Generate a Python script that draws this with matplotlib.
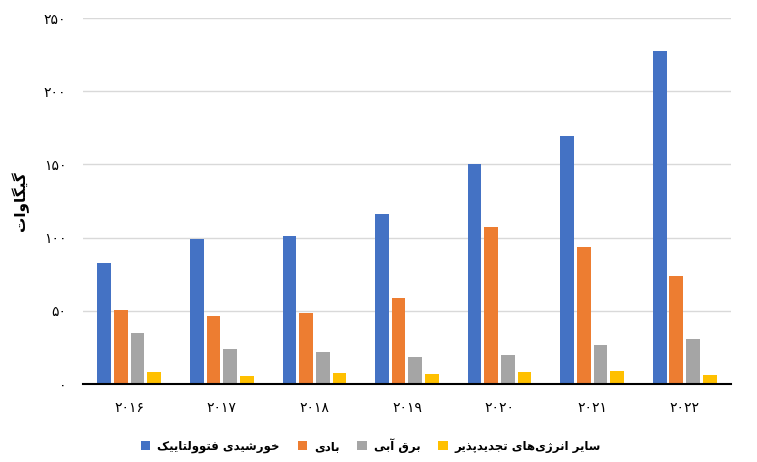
import numpy as np
import matplotlib
matplotlib.use("Agg")
import matplotlib.pyplot as plt

# ── Data ────────────────────────────────────────────────────────
years = ["۲۰۱۶", "۲۰۱۷", "۲۰۱۸", "۲۰۱۹", "۲۰۲۰", "۲۰۲۱", "۲۰۲۲"]
solar = [82.6, 99.0, 101.0, 116.1, 150.3, 169.4, 227.5]
wind = [50.5, 46.4, 48.5, 58.7, 107.2, 93.6, 73.8]
hydro = [34.8, 23.9, 21.9, 18.4, 19.8, 26.6, 30.7]
other = [8.2, 5.5, 7.5, 6.8, 8.2, 8.9, 6.1]

series_names = ["خورشیدی فتوولتاییک", "بادی", "برق آبی", "سایر انرژی‌های تجدیدپذیر"]
y_label = "گیگاوات"
y_ticks = [0, 50, 100, 150, 200, 250]
y_tick_labels = ["۰", "۵۰", "۱۰۰", "۱۵۰", "۲۰۰", "۲۵۰"]

colors = ["#4472C4", "#ED7D31", "#A5A5A5", "#FFC000"]

# ── Minimal Persian shaping (matplotlib has no bidi/shaping) ────
# forms: (isolated, final, initial, medial); 2-tuple = joins only to the right
FORMS = {
    "ا": ("\uFE8D", "\uFE8E"), "آ": ("\uFE81", "\uFE82"),
    "ب": ("\uFE8F", "\uFE90", "\uFE91", "\uFE92"),
    "ت": ("\uFE95", "\uFE96", "\uFE97", "\uFE98"),
    "ج": ("\uFE9D", "\uFE9E", "\uFE9F", "\uFEA0"),
    "خ": ("\uFEA5", "\uFEA6", "\uFEA7", "\uFEA8"),
    "د": ("\uFEA9", "\uFEAA"), "ذ": ("\uFEAB", "\uFEAC"),
    "ر": ("\uFEAD", "\uFEAE"), "ز": ("\uFEAF", "\uFEB0"),
    "س": ("\uFEB1", "\uFEB2", "\uFEB3", "\uFEB4"),
    "ش": ("\uFEB5", "\uFEB6", "\uFEB7", "\uFEB8"),
    "ف": ("\uFED1", "\uFED2", "\uFED3", "\uFED4"),
    "ق": ("\uFED5", "\uFED6", "\uFED7", "\uFED8"),
    "ل": ("\uFEDD", "\uFEDE", "\uFEDF", "\uFEE0"),
    "ن": ("\uFEE5", "\uFEE6", "\uFEE7", "\uFEE8"),
    "ه": ("\uFEE9", "\uFEEA", "\uFEEB", "\uFEEC"),
    "و": ("\uFEED", "\uFEEE"),
    "پ": ("\uFB56", "\uFB57", "\uFB58", "\uFB59"),
    "ژ": ("\uFB8A", "\uFB8B"),
    "ک": ("\uFB8E", "\uFB8F", "\uFB90", "\uFB91"),
    "گ": ("\uFB92", "\uFB93", "\uFB94", "\uFB95"),
    "ی": ("\uFBFC", "\uFBFD", "\uFBFE", "\uFBFF"),
}


def fa(text):
    out = []
    for i, c in enumerate(text):
        if c not in FORMS:
            out.append(c)
            continue
        prev = text[i - 1] if i > 0 else None
        nxt = text[i + 1] if i + 1 < len(text) else None
        join_prev = prev in FORMS and len(FORMS[prev]) == 4
        join_next = nxt in FORMS and len(FORMS[c]) == 4
        f = FORMS[c]
        if join_prev and join_next:
            out.append(f[3])
        elif join_prev:
            out.append(f[1])
        elif join_next:
            out.append(f[2])
        else:
            out.append(f[0])
    return "".join(ch for ch in out if ch != "\u200c")[::-1]


plt.rcParams["font.family"] = ["DejaVu Sans"]

# ── Plot ────────────────────────────────────────────────────────
fig = plt.figure(figsize=(7.57, 4.62), dpi=100)
ax = fig.add_axes([0.1096, 0.1688, 0.856, 0.7922])

x = np.arange(len(years))
slot = 0.18
bar_w = 0.148
for i, (vals, name) in enumerate(zip([solar, wind, hydro, other], series_names)):
    ax.bar(x + (i - 1.5) * slot, vals, width=bar_w, color=colors[i], label=fa(name), zorder=3)

ax.set_xlim(-0.5, len(years) - 0.5)
ax.set_ylim(0, 250)
ax.set_yticks(y_ticks)
ax.set_yticklabels(y_tick_labels, fontsize=10)
ax.set_xticks(x)
ax.set_xticklabels(years, fontsize=10)
ax.tick_params(axis="both", length=0)
ax.tick_params(axis="y", pad=12)
ax.tick_params(axis="x", pad=12)
ax.grid(axis="y", color="#d9d9d9", linewidth=1, zorder=0)
for s in ["top", "right", "left"]:
    ax.spines[s].set_visible(False)
ax.spines["bottom"].set_color("black")
ax.spines["bottom"].set_linewidth(1.5)
ax.spines["bottom"].set_zorder(4)

ax.set_ylabel(fa(y_label), fontsize=11, fontweight="bold")
ax.yaxis.set_label_coords(-0.083, 0.5)

fig.legend(loc="center", bbox_to_anchor=(0.49, 0.036), ncol=4, frameon=False,
           prop={"size": 8.5, "weight": "bold"}, handlelength=0.8, handleheight=0.8,
           handletextpad=0.6, columnspacing=1.5)

plt.savefig("out.png", dpi=100)
